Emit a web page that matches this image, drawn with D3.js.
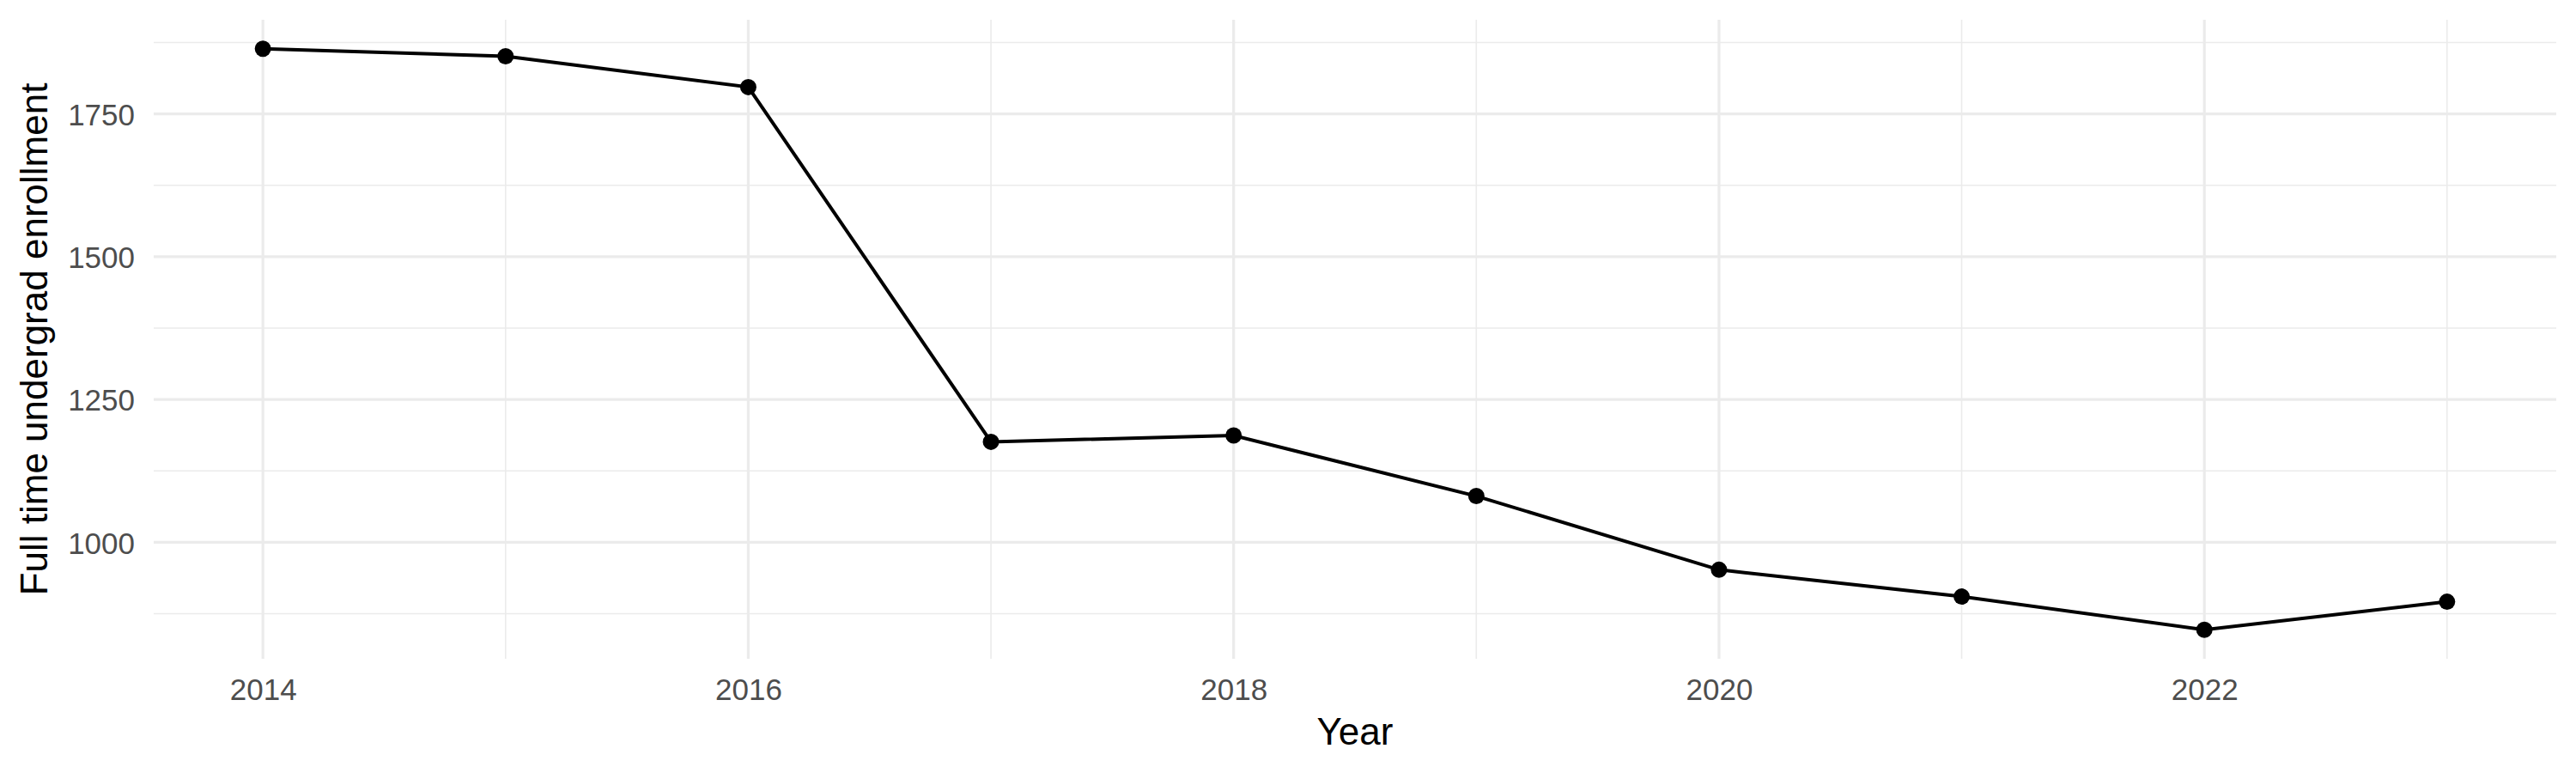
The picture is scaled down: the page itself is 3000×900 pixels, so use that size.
<!DOCTYPE html>
<html>
<head>
<meta charset="utf-8">
<script src="https://cdn.jsdelivr.net/npm/d3@7"></script>
<style>
  body { margin: 0; background: #fff; }
  text { font-family: "Liberation Sans", Arial, sans-serif; }
</style>
</head>
<body>
<div id="chart-area"></div>
<script>
// enrollment by year
var years = [2014, 2015, 2016, 2017, 2018, 2019, 2020, 2021, 2022, 2023];
var enrollment = [1864, 1851, 1797, 1176, 1187, 1081, 952, 905, 847, 896];

var yMajor = [1000, 1250, 1500, 1750];
var yMinor = [875, 1125, 1375, 1625, 1875];
var xMajor = [2014, 2016, 2018, 2020, 2022];
var xMinor = [2015, 2017, 2019, 2021, 2023];

var width = 3000, height = 900;
// panel edges (window.top is reserved, so use pTop etc)
var pLeft = 179, pRight = 2977, pTop = 23, pBottom = 767;

var svg = d3.select("#chart-area").append("svg")
    .attr("width", width)
    .attr("height", height);

// ggplot style 5% padding
var xExt = d3.extent(years), yExt = d3.extent(enrollment);
var xPad = (xExt[1] - xExt[0]) * 0.05, yPad = (yExt[1] - yExt[0]) * 0.05;

var x = d3.scaleLinear()
    .domain([xExt[0] - xPad, xExt[1] + xPad])
    .range([pLeft, pRight]);
var y = d3.scaleLinear()
    .domain([yExt[0] - yPad, yExt[1] + yPad])
    .range([pBottom, pTop]);

var grid = svg.append("g");
grid.selectAll(".ymin").data(yMinor).enter().append("line")
    .attr("x1", pLeft).attr("x2", pRight)
    .attr("y1", d => y(d)).attr("y2", d => y(d))
    .attr("stroke", "#EBEBEB").attr("stroke-width", 1.6);
grid.selectAll(".xmin").data(xMinor).enter().append("line")
    .attr("y1", pTop).attr("y2", pBottom)
    .attr("x1", d => x(d)).attr("x2", d => x(d))
    .attr("stroke", "#EBEBEB").attr("stroke-width", 1.6);
grid.selectAll(".ymaj").data(yMajor).enter().append("line")
    .attr("x1", pLeft).attr("x2", pRight)
    .attr("y1", d => y(d)).attr("y2", d => y(d))
    .attr("stroke", "#EBEBEB").attr("stroke-width", 3.2);
grid.selectAll(".xmaj").data(xMajor).enter().append("line")
    .attr("y1", pTop).attr("y2", pBottom)
    .attr("x1", d => x(d)).attr("x2", d => x(d))
    .attr("stroke", "#EBEBEB").attr("stroke-width", 3.2);

// axes (ticks/domain hidden, theme_minimal)
var xAxis = svg.append("g")
    .attr("transform", "translate(0," + pBottom + ")")
    .call(d3.axisBottom(x).tickValues(xMajor).tickFormat(d3.format("d")).tickSize(0));
var yAxis = svg.append("g")
    .attr("transform", "translate(" + pLeft + ",0)")
    .call(d3.axisLeft(y).tickValues(yMajor).tickFormat(d3.format("d")).tickSize(0).tickPadding(22));
[xAxis, yAxis].forEach(a => {
    a.select(".domain").remove();
    a.selectAll("text")
        .attr("fill", "#4D4D4D")
        .style("font-size", "35px")
        .style("font-family", "'Liberation Sans', Arial, sans-serif");
});
xAxis.selectAll("text").attr("dy", null).attr("y", 48);
yAxis.selectAll("text").attr("dy", "0.36em");

var line = d3.line()
    .x((d, i) => x(years[i]))
    .y(d => y(d));

svg.append("path")
    .datum(enrollment)
    .attr("d", line)
    .attr("fill", "none")
    .attr("stroke", "#000")
    .attr("stroke-width", 4);

svg.selectAll(".pt").data(enrollment).enter().append("circle")
    .attr("cx", (d, i) => x(years[i]))
    .attr("cy", d => y(d))
    .attr("r", 9.5)
    .attr("fill", "#000");

svg.append("text")
    .attr("x", (pLeft + pRight) / 2)
    .attr("y", 867)
    .attr("text-anchor", "middle")
    .style("font-size", "44px")
    .attr("fill", "#000")
    .text("Year");

svg.append("text")
    .attr("transform", "translate(55," + ((pTop + pBottom) / 2) + ") rotate(-90)")
    .attr("text-anchor", "middle")
    .style("font-size", "44px")
    .attr("fill", "#000")
    .text("Full time undergrad enrollment");
</script>
</body>
</html>
